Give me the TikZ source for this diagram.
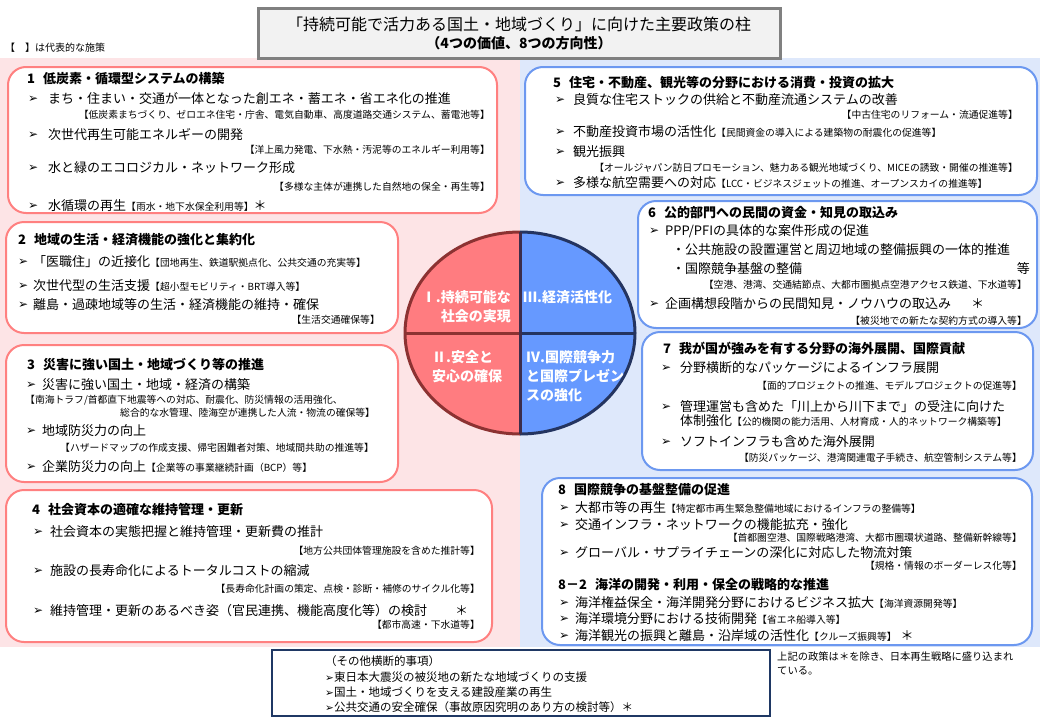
\documentclass[tikz,border=0pt]{standalone}
\usepackage{fontspec}
\setmainfont{Noto Sans CJK JP}
\newfontfamily\dejavu{DejaVu Sans}
\definecolor{bgpink}{RGB}{253,228,230}
\definecolor{bgblue}{RGB}{222,232,251}
\definecolor{bdpink}{RGB}{255,128,128}
\definecolor{bdblue}{RGB}{108,152,240}
\definecolor{qpink}{RGB}{255,124,128}
\definecolor{qblue}{RGB}{102,153,255}
\definecolor{cred}{RGB}{140,50,50}
\definecolor{cnavy}{RGB}{36,52,96}
\definecolor{cdark}{RGB}{60,45,75}
\definecolor{ttlfill}{RGB}{242,242,242}
\definecolor{ttlbd}{RGB}{128,128,128}
\definecolor{botbd}{RGB}{31,56,100}
\newcommand\PItem[5]{\node[arr] (#1a) at (#2,#4) {➢}; \node[itm] (#1) at (#3,#4) {#5};}
\newcommand\PNoteR[4]{\node[noteR] (#1) at (#2,#3) {#4};}
\newcommand\PNoteL[4]{\node[noteL] (#1) at (#2,#3) {#4};}
\newcommand\PSmall[1]{{\fontsize{9.8}{10}\selectfont #1}}
\newcommand\PArr{{\dejavu\bfseries\fontsize{10.5}{10}\selectfont ➢}}
\begin{document}
\begin{tikzpicture}[x=1pt,y=-1pt,
  pbox/.style={draw=bdpink, line width=2pt, fill=white, rounded corners=18pt},
  bbox/.style={draw=bdblue, line width=2pt, fill=white, rounded corners=18pt},
  itm/.style={anchor=west, inner sep=0pt, font=\fontsize{13}{14}\selectfont},
  arr/.style={anchor=west, inner sep=0pt, font=\dejavu\bfseries\fontsize{12}{12}\selectfont},
  noteR/.style={anchor=east, inner sep=0pt, font=\fontsize{9.8}{10}\selectfont},
  noteL/.style={anchor=west, inner sep=0pt, font=\fontsize{9.8}{10}\selectfont},
  ttl/.style={anchor=west, inner sep=0pt, font=\bfseries\fontsize{13}{14}\selectfont},
  qtxt/.style={inner sep=0pt, text=white, font=\bfseries\fontsize{14}{19}\selectfont},
  bt/.style={anchor=west, inner sep=0pt, font=\fontsize{11.5}{12}\selectfont},
  rn/.style={anchor=west, inner sep=0pt, font=\fontsize{10.3}{11}\selectfont}]
\useasboundingbox (0,0) rectangle (1040,720);
\fill[white] (0,0) rectangle (1040,720);
% backgrounds
\fill[bgpink] (0,58) rectangle (520,647);
\fill[bgblue] (520,58) rectangle (1040,647);
% title
\draw[draw=ttlbd, fill=ttlfill, line width=3pt] (258,8) rectangle (780,58);
\node[inner sep=0pt, font=\fontsize{16}{16}\selectfont] (tt1) at (519,24) {「持続可能で活力ある国土・地域づくり」に向けた主要政策の柱};
\node[inner sep=0pt, font=\bfseries\fontsize{14}{14}\selectfont] (tt2) at (519,43) {（4つの価値、8つの方向性）};
\node[anchor=west, inner sep=0pt, font=\fontsize{10}{10}\selectfont] (legend) at (5,48) {【\hspace{10pt}】は代表的な施策};
% boxes
\draw[pbox] (8,67) rectangle (497,213);
\draw[pbox] (6,222) rectangle (398,333);
\draw[pbox] (6,345) rectangle (398,482);
\draw[pbox] (6,490) rectangle (492,642);
\draw[bbox] (525,67) rectangle (1037,195);
\draw[bbox] (638,201) rectangle (1037,328);
\draw[bbox] (642,332) rectangle (1033,470);
\draw[bbox] (542,478) rectangle (1032,645);
% circle
\begin{scope}
\clip (400,220) rectangle (520,440);
\fill[qpink] (520,333) ellipse[x radius=115, y radius=101];
\draw[cred, line width=3pt] (520,333) ellipse[x radius=115, y radius=101];
\end{scope}
\begin{scope}
\clip (520,220) rectangle (640,440);
\fill[qblue] (520,333) ellipse[x radius=115, y radius=101];
\draw[cnavy, line width=3pt] (520,333) ellipse[x radius=115, y radius=101];
\end{scope}
\draw[cred, line width=3pt] (405,333) -- (520,333);
\draw[cnavy, line width=3pt] (520,333) -- (635,333);
\draw[cdark, line width=3pt] (520,232) -- (520,434);
\node[qtxt, align=right, anchor=east] (q1) at (511,307) {Ⅰ.持続可能な\\社会の実現};
\node[qtxt, anchor=west] (q3) at (523,297) {Ⅲ.経済活性化};
\node[qtxt, align=left, anchor=west] (q2) at (432,367) {Ⅱ.安全と\\安心の確保};
\node[qtxt, align=left, anchor=west] (q4) at (526,376) {Ⅳ.国際競争力\\と国際プレゼン\\スの強化};
% box 1
\node[ttl] (t1) at (27,79) {1\hspace{8pt}低炭素・循環型システムの構築};
\PItem{i11}{28}{48}{99}{まち・住まい・交通が一体となった創エネ・蓄エネ・省エネ化の推進}
\PNoteR{n11}{490}{115}{【低炭素まちづくり、ゼロエネ住宅・庁舎、電気自動車、高度道路交通システム、蓄電池等】}
\PItem{i12}{28}{48}{135}{次世代再生可能エネルギーの開発}
\PNoteR{n12}{490}{150}{【洋上風力発電、下水熱・汚泥等のエネルギー利用等】}
\PItem{i13}{28}{48}{168}{水と緑のエコロジカル・ネットワーク形成}
\PNoteR{n13}{490}{187}{【多様な主体が連携した自然地の保全・再生等】}
\PItem{i14}{28}{48}{206}{水循環の再生\PSmall{【雨水・地下水保全利用等】}＊}
% box 2
\node[ttl] (t2) at (18,240) {2\hspace{8pt}地域の生活・経済機能の強化と集約化};
\PItem{i21}{18}{33}{262}{「医職住」の近接化\PSmall{【団地再生、鉄道駅拠点化、公共交通の充実等】}}
\PItem{i22}{18}{33}{286}{次世代型の生活支援\PSmall{【超小型モビリティ・BRT導入等】}}
\PItem{i23}{18}{33}{305}{離島・過疎地域等の生活・経済機能の維持・確保}
\PNoteR{n23}{380}{320}{【生活交通確保等】}
% box 3
\node[ttl] (t3) at (27,365) {3\hspace{8pt}災害に強い国土・地域づくり等の推進};
\PItem{i31}{26}{42}{385}{災害に強い国土・地域・経済の構築}
\PNoteL{n31a}{25}{400}{【南海トラフ/首都直下地震等への対応、耐震化、防災情報の活用強化、}
\PNoteL{n31b}{120}{413}{総合的な水管理、陸海空が連携した人流・物流の確保等】}
\PItem{i32}{26}{42}{431}{地域防災力の向上}
\PNoteL{n32}{60}{448}{【ハザードマップの作成支援、帰宅困難者対策、地域間共助の推進等】}
\PItem{i33}{26}{42}{467}{企業防災力の向上\PSmall{【企業等の事業継続計画（BCP）等】}}
% box 4
\node[ttl] (t4) at (32,510) {4\hspace{8pt}社会資本の適確な維持管理・更新};
\PItem{i41}{33}{50}{532}{社会資本の実態把握と維持管理・更新費の推計}
\PNoteR{n41}{480}{551}{【地方公共団体管理施設を含めた推計等】}
\PItem{i42}{33}{50}{571}{施設の長寿命化によるトータルコストの縮減}
\PNoteR{n42}{480}{589}{【長寿命化計画の策定、点検・診断・補修のサイクル化等】}
\PItem{i43}{33}{50}{611}{維持管理・更新のあるべき姿（官民連携、機能高度化等）の検討\hspace{28pt}＊}
\PNoteR{n43}{480}{625}{【都市高速・下水道等】}
% box 5
\node[ttl] (t5) at (553,83) {5\hspace{8pt}住宅・不動産、観光等の分野における消費・投資の拡大};
\PItem{i51}{555}{573}{100}{良質な住宅ストックの供給と不動産流通システムの改善}
\PNoteR{n51}{1018}{115}{【中古住宅のリフォーム・流通促進等】}
\PItem{i52}{555}{573}{132}{不動産投資市場の活性化\PSmall{【民間資金の導入による建築物の耐震化の促進等】}}
\PItem{i53}{555}{573}{152}{観光振興}
\PNoteR{n53}{1018}{168}{【オールジャパン訪日プロモーション、魅力ある観光地域づくり、MICEの誘致・開催の推進等】}
\PItem{i54}{555}{573}{183}{多様な航空需要への対応\PSmall{【LCC・ビジネスジェットの推進、オープンスカイの推進等】}}
% box 6
\node[ttl] (t6) at (648,213) {6\hspace{8pt}公的部門への民間の資金・知見の取込み};
\PItem{i61}{649}{665}{231}{PPP/PFIの具体的な案件形成の促進}
\node[itm] (i61s1) at (672,250) {・公共施設の設置運営と周辺地域の整備振興の一体的推進};
\node[itm] (i61s2) at (672,269) {・国際競争基盤の整備};
\node[itm, anchor=east] (i61e) at (1030,269) {等};
\PNoteR{n61}{1027}{285}{【空港、港湾、交通結節点、大都市圏拠点空港アクセス鉄道、下水道等】}
\PItem{i62}{649}{665}{304}{企画構想段階からの民間知見・ノウハウの取込み\hspace{20pt}＊}
\PNoteR{n62}{1027}{321}{【被災地での新たな契約方式の導入等】}
% box 7
\node[ttl] (t7) at (663,348) {7\hspace{8pt}我が国が強みを有する分野の海外展開、国際貢献};
\PItem{i71}{661}{680}{368}{分野横断的なパッケージによるインフラ展開}
\PNoteR{n71}{1022}{386}{【面的プロジェクトの推進、モデルプロジェクトの促進等】}
\PItem{i72}{661}{680}{407}{管理運営も含めた「川上から川下まで」の受注に向けた}
\node[itm] (i72b) at (680,421) {体制強化\PSmall{【公的機関の能力活用、人材育成・人的ネットワーク構築等】}};
\PItem{i73}{661}{680}{442}{ソフトインフラも含めた海外展開}
\PNoteR{n73}{1022}{458}{【防災パッケージ、港湾関連電子手続き、航空管制システム等】}
% box 8
\node[ttl] (t8) at (558,490) {8\hspace{8pt}国際競争の基盤整備の促進};
\PItem{i81}{559}{575}{508}{大都市等の再生\PSmall{【特定都市再生緊急整備地域におけるインフラの整備等】}}
\PItem{i82}{559}{575}{525}{交通インフラ・ネットワークの機能拡充・強化}
\PNoteR{n82}{1022}{538}{【首都圏空港、国際戦略港湾、大都市圏環状道路、整備新幹線等】}
\PItem{i83}{559}{575}{553}{グローバル・サプライチェーンの深化に対応した物流対策}
\PNoteR{n83}{1022}{566}{【規格・情報のボーダーレス化等】}
\node[ttl] (t82) at (558,585) {8－2\hspace{8pt}海洋の開発・利用・保全の戦略的な推進};
\PItem{i84}{559}{575}{603}{海洋権益保全・海洋開発分野におけるビジネス拡大\PSmall{【海洋資源開発等】}}
\PItem{i85}{559}{575}{619}{海洋環境分野における技術開発\PSmall{【省エネ船導入等】}}
\PItem{i86}{559}{575}{636}{海洋観光の振興と離島・沿岸域の活性化\PSmall{【クルーズ振興等】}\hspace{4pt}＊}
% bottom
\draw[draw=botbd, line width=2pt] (272,650) rectangle (770,716);
\node[bt] (b0) at (325,661) {（その他横断的事項）};
\node[bt] (b1) at (325,677) {\PArr 東日本大震災の被災地の新たな地域づくりの支援};
\node[bt] (b2) at (325,692) {\PArr 国土・地域づくりを支える建設産業の再生};
\node[bt] (b3) at (325,707) {\PArr 公共交通の安全確保（事故原因究明のあり方の検討等）＊};
\node[rn] (r1) at (777,657) {上記の政策は＊を除き、日本再生戦略に盛り込まれ};
\node[rn] (r2) at (777,671) {ている。};
\end{tikzpicture}
\end{document}
